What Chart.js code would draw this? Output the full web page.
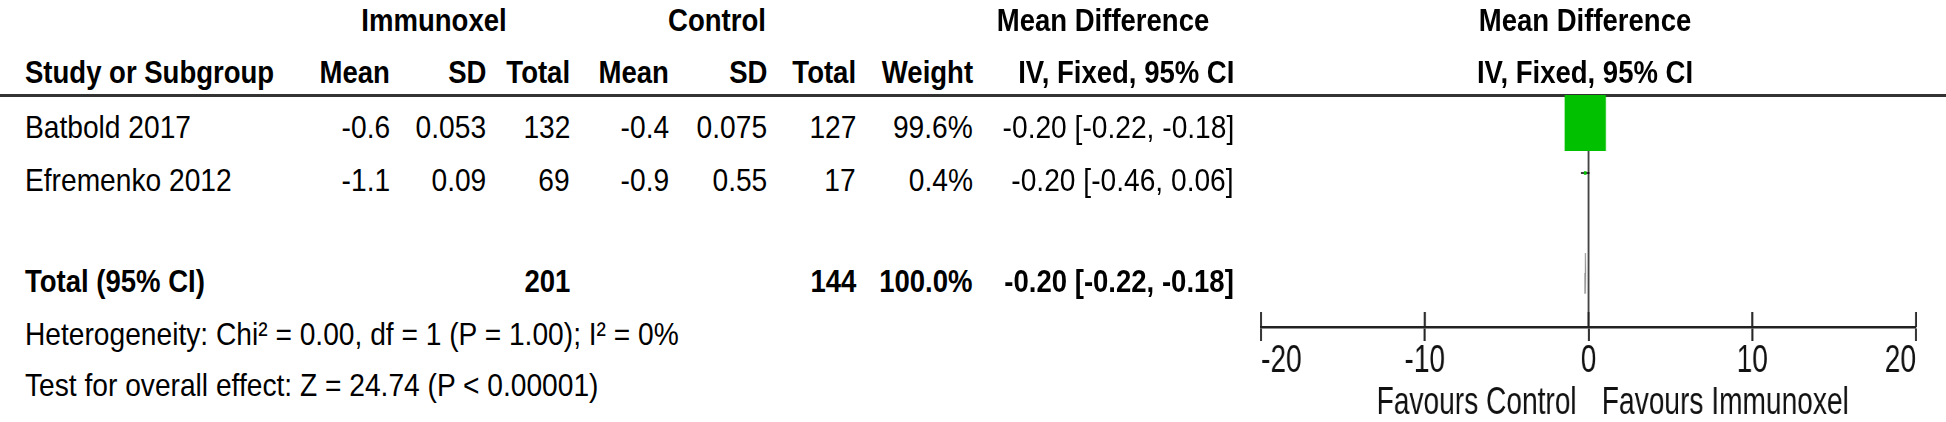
<!DOCTYPE html>
<html><head><meta charset="utf-8">
<script src="https://cdn.jsdelivr.net/npm/chart.js@4.4.1/dist/chart.umd.min.js"></script>
<style>
html,body{margin:0;padding:0;background:#fff;width:1946px;height:422px;overflow:hidden}
#page{position:relative;width:1946px;height:422px;font-family:"Liberation Sans",Arial,sans-serif;color:#000}
.t{position:absolute;width:0;height:0}
.t span{position:absolute;top:0;white-space:nowrap;font-size:32px;line-height:1}
#rule{position:absolute;left:0;top:93.5px;width:1946px;height:3px;background:#333}
#plotwrap{position:absolute;left:1180px;top:0;width:1035px;height:422px;transform:scaleX(0.74);transform-origin:0 0}
</style></head>
<body><div id="page"><div id="rule"></div><div id="plotwrap"><canvas id="c"></canvas></div></div>
<script>
// ---- data ----
const studies = ["Batbold 2017", "Efremenko 2012"];
const immMean = ["-0.6", "-1.1"];
const immSD = ["0.053", "0.09"];
const immTotal = [132, 69];
const ctlMean = ["-0.4", "-0.9"];
const ctlSD = ["0.075", "0.55"];
const ctlTotal = [127, 17];
const weights = [99.6, 0.4];
const md = [-0.20, -0.20];
const ciLow = [-0.22, -0.46];
const ciHigh = [-0.18, 0.06];
const totalImm = 201;
const totalCtl = 144;
const totalWeight = 100.0;
const pooledMD = -0.20;
const pooledLow = -0.22;
const pooledHigh = -0.18;
const xTicks = [-20, -10, 0, 10, 20];
const groupHeaders = ["Immunoxel", "Control"];
const heterogeneityText = "Heterogeneity: Chi² = 0.00, df = 1 (P = 1.00); I² = 0%";
const overallText = "Test for overall effect: Z = 24.74 (P < 0.00001)";
const favoursLeft = "Favours Control";
const favoursRight = "Favours Immunoxel";

// ---- table text ----
const page = document.getElementById('page');
function put(text, x, y, align, bold) {
  const d = document.createElement('div'); d.className = 't';
  d.style.left = x + 'px'; d.style.top = y + 'px';
  const s = document.createElement('span'); s.textContent = text;
  const c = bold ? 0.86 : 0.88;
  if (bold) s.style.fontWeight = 'bold';
  if (align === 'left') { s.style.left = '0'; s.style.transformOrigin = '0 50%'; s.style.transform = `translateY(-50%) scaleX(${c})`; }
  else if (align === 'right') { s.style.right = '0'; s.style.transformOrigin = '100% 50%'; s.style.transform = `translateY(-50%) scaleX(${c})`; }
  else { s.style.left = '0'; s.style.transformOrigin = '50% 50%'; s.style.transform = `translate(-50%,-50%) scaleX(${c})`; }
  d.appendChild(s); page.appendChild(d);
}
const col = {study:25, mean1:390, sd1:486, tot1:570, mean2:669, sd2:767, tot2:856, weight:973, ci:1234};
const yH1 = 20, yH2 = 71.5, rowY = [127, 180], yTotal = 281, yHet = 334, yTest = 385;
const fmtCI = (m, l, h) => `${m.toFixed(2)} [${l.toFixed(2)}, ${h.toFixed(2)}]`;

put(groupHeaders[0], 434, yH1, 'center', true);
put(groupHeaders[1], 717, yH1, 'center', true);
put("Mean Difference", 1103, yH1, 'center', true);
put("Mean Difference", 1585, yH1, 'center', true);
put("Study or Subgroup", col.study, yH2, 'left', true);
put("Mean", col.mean1, yH2, 'right', true);
put("SD", col.sd1, yH2, 'right', true);
put("Total", col.tot1, yH2, 'right', true);
put("Mean", col.mean2, yH2, 'right', true);
put("SD", col.sd2, yH2, 'right', true);
put("Total", col.tot2, yH2, 'right', true);
put("Weight", col.weight, yH2, 'right', true);
put("IV, Fixed, 95% CI", col.ci, yH2, 'right', true);
put("IV, Fixed, 95% CI", 1585, yH2, 'center', true);
studies.forEach((s, i) => {
  const y = rowY[i];
  put(s, col.study, y, 'left', false);
  put(immMean[i], col.mean1, y, 'right', false);
  put(immSD[i], col.sd1, y, 'right', false);
  put(String(immTotal[i]), col.tot1, y, 'right', false);
  put(ctlMean[i], col.mean2, y, 'right', false);
  put(ctlSD[i], col.sd2, y, 'right', false);
  put(String(ctlTotal[i]), col.tot2, y, 'right', false);
  put(weights[i].toFixed(1) + '%', col.weight, y, 'right', false);
  put(fmtCI(md[i], ciLow[i], ciHigh[i]), col.ci, y, 'right', false);
});
put("Total (95% CI)", col.study, yTotal, 'left', true);
put(String(totalImm), col.tot1, yTotal, 'right', true);
put(String(totalCtl), col.tot2, yTotal, 'right', true);
put(totalWeight.toFixed(1) + '%', col.weight, yTotal, 'right', true);
put(fmtCI(pooledMD, pooledLow, pooledHigh), col.ci, yTotal, 'right', true);
put(heterogeneityText, col.study, yHet, 'left', false);
put(overallText, col.study, yTest, 'left', false);

// ---- forest plot ----
const FONT = '"Liberation Sans", Arial, sans-serif';
const totalRow = studies.length + 2;
const boxData = studies.map((s, i) => ({x: md[i], y: i + 1}));
const boxRadius = weights.map(w => 3.96 * Math.sqrt(w));
const ciSets = studies.map((s, i) => ({
  type: 'line', data: [{x: ciLow[i], y: i + 1}, {x: ciHigh[i], y: i + 1}],
  borderColor: '#000', borderWidth: 1.5, pointRadius: 0, order: 2, clip: false
}));
const dh = 0.4;
const diamond = [
  {x: pooledLow, y: totalRow}, {x: pooledMD, y: totalRow - dh},
  {x: pooledHigh, y: totalRow}, {x: pooledMD, y: totalRow + dh}, {x: pooledLow, y: totalRow}
];
const Y_MIN = -1.46, Y_MAX = 5.08;

const forestPlugin = {
  id: 'forest',
  beforeDatasetsDraw(chart) {
    const {ctx, chartArea, scales: {x, y}} = chart;
    const px = x.getPixelForValue(0);
    ctx.save();
    ctx.strokeStyle = '#444'; ctx.lineWidth = 2.7;
    ctx.beginPath(); ctx.moveTo(px, y.getPixelForValue(1)); ctx.lineTo(px, chartArea.bottom); ctx.stroke();
    ctx.restore();
  },
  afterDraw(chart) {
    const {ctx, chartArea, scales: {x}} = chart;
    ctx.save();
    ctx.strokeStyle = '#222'; ctx.lineWidth = 2.7;
    xTicks.forEach(v => {
      const p = x.getPixelForValue(v);
      ctx.beginPath(); ctx.moveTo(p, chartArea.bottom - 15); ctx.lineTo(p, chartArea.bottom); ctx.stroke();
    });
    ctx.fillStyle = '#111';
    ctx.font = `38px ${FONT}`;
    ctx.textBaseline = 'middle';
    const p0 = x.getPixelForValue(0);
    ctx.textAlign = 'right'; ctx.fillText(favoursLeft, p0 - 16, 404);
    ctx.textAlign = 'left'; ctx.fillText(favoursRight, p0 + 18, 404);
    ctx.restore();
  }
};

new Chart(document.getElementById('c'), {
  type: 'scatter',
  data: {
    datasets: [
      {data: boxData, pointStyle: 'rect', pointRadius: boxRadius, pointBackgroundColor: '#00c000',
       pointBorderWidth: 0, pointBorderColor: '#00c000', order: 1, clip: false},
      ...ciSets,
      {type: 'line', data: diamond, borderColor: '#888', backgroundColor: '#666', borderWidth: 1.5,
       pointRadius: 0, tension: 0, order: 3, clip: false}
    ]
  },
  options: {
    responsive: true, maintainAspectRatio: false, animation: false, devicePixelRatio: 1,
    events: [],
    layout: {autoPadding: false, padding: {left: 109.5, right: 40.4, top: 0, bottom: 0}},
    plugins: {legend: {display: false}, tooltip: {enabled: false}},
    scales: {
      x: {
        type: 'linear', min: -20, max: 20, position: 'bottom',
        afterBuildTicks: s => { s.ticks = xTicks.map(v => ({value: v})); },
        afterFit: s => { s.height = 95; },
        grid: {drawOnChartArea: false, drawTicks: true, tickLength: 14, tickWidth: 2.7, tickColor: '#222'},
        border: {display: true, color: '#222', width: 2.5},
        ticks: {align: 'inner', padding: -2, color: '#111', font: {family: FONT, size: 38},
                maxRotation: 0, autoSkip: false, callback: v => String(v)}
      },
      y: {type: 'linear', display: false, reverse: true, bounds: 'data', min: Y_MIN, max: Y_MAX,
          afterBuildTicks: s => { s.min = Y_MIN; s.max = Y_MAX; }}
    }
  },
  plugins: [forestPlugin]
});
</script></body></html>
